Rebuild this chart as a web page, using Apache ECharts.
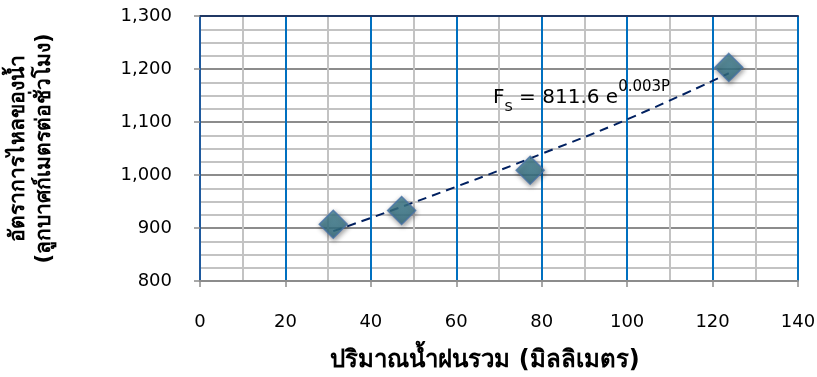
<!DOCTYPE html>
<html>
<head>
<meta charset="utf-8">
<script src="https://cdn.jsdelivr.net/npm/echarts@6/dist/echarts.min.js"></script>
<style>
  html, body { margin: 0; padding: 0; background: #fff; }
  #chart { width: 817px; height: 377px; }
</style>
</head>
<body>
<div id="chart"></div>
<script>
// ปริมาณน้ำฝนรวม (มม.) กับ อัตราการไหล (ลบ.ม./ชม.)
const rainfall = [31.2, 47.2, 77.3, 123.8];
const flowRate = [907, 933, 1009, 1203];

// เส้นแนวโน้ม (อ่านจากภาพ)
const trendX = [31.2, 40, 60, 80, 100, 123.8];
const trendY = [894, 919, 978, 1040, 1105, 1192];

const xTicks = [0, 20, 40, 60, 80, 100, 120, 140];
const yTicks = [800, 900, 1000, 1100, 1200, 1300];

const font = '"DejaVu Sans", "Noto Sans", sans-serif';
const chart = echarts.init(document.getElementById('chart'));

const option = {
  backgroundColor: '#fff',
  animation: false,
  grid: { left: 200, top: 16, right: 19, bottom: 96, outerBoundsMode: 'none', containLabel: false },
  xAxis: [{
    type: 'value',
    min: xTicks[0],
    max: xTicks[xTicks.length - 1],
    interval: 20,
    name: 'ปริมาณน้ำฝนรวม (มิลลิเมตร)',
    nameLocation: 'middle',
    nameGap: 68,
    nameTextStyle: { fontSize: 24, fontWeight: 'bold', color: '#000', fontFamily: font, padding: [0, 28, 0, 0] },
    axisLine: { show: true, lineStyle: { color: '#8c8c8c', width: 2 } },
    axisTick: { show: true, length: 6, lineStyle: { color: '#8c8c8c', width: 1.5 } },
    axisLabel: { fontSize: 18, color: '#000', margin: 32, fontFamily: font },
    splitLine: { show: true, lineStyle: { color: '#0070c0', width: 2 } },
    minorTick: { show: false, splitNumber: 2 },
    minorSplitLine: { show: true, lineStyle: { color: '#c3c3c3', width: 2 } }
  }, {
    type: 'value',
    position: 'top',
    min: 0, max: 140,
    axisLine: { show: true, lineStyle: { color: '#203864', width: 2 } },
    axisTick: { show: false },
    axisLabel: { show: false },
    splitLine: { show: false }
  }],
  yAxis: [{
    type: 'value',
    min: yTicks[0],
    max: yTicks[yTicks.length - 1],
    interval: 100,
    name: 'อัตราการไหลของน้ำ\n(ลูกบาศก์เมตรต่อชั่วโมง)',
    nameLocation: 'middle',
    nameGap: 142,
    nameRotate: 90,
    nameTextStyle: { fontSize: 21, fontWeight: 'bold', color: '#000', fontFamily: font, lineHeight: 26 },
    axisLine: { show: true, lineStyle: { color: '#8c8c8c', width: 2 } },
    axisTick: { show: true, length: 6, lineStyle: { color: '#8c8c8c', width: 1.5 } },
    axisLabel: {
      fontSize: 18, color: '#000', margin: 28, fontFamily: font,
      formatter: v => v.toLocaleString('en-US')
    },
    splitLine: { show: true, lineStyle: { color: '#8c8c8c', width: 2 } },
    minorTick: { show: false, splitNumber: 4 },
    minorSplitLine: { show: true, lineStyle: { color: '#c3c3c3', width: 2 } }
  }, {
    type: 'value',
    position: 'right',
    min: 800, max: 1300,
    axisLine: { show: true, lineStyle: { color: '#1f5a9e', width: 2 } },
    axisTick: { show: false },
    axisLabel: { show: false },
    splitLine: { show: false }
  }],
  series: [{
    type: 'line',
    data: trendX.map((x, i) => [x, trendY[i]]),
    smooth: true,
    symbol: 'none',
    lineStyle: { color: '#002060', width: 2, type: [9, 6] },
    z: 3
  }, {
    type: 'scatter',
    data: rainfall.map((x, i) => [x, flowRate[i]]),
    symbol: 'diamond',
    symbolSize: [28, 28],
    itemStyle: {
      color: {
        type: 'linear', x: 0, y: 0, x2: 0, y2: 1,
        colorStops: [{ offset: 0, color: '#47899a' }, { offset: 1, color: '#2f6a7e' }]
      },
      borderColor: '#4672a6',
      borderWidth: 1.5,
      shadowColor: 'rgba(0,0,0,0.45)',
      shadowBlur: 5,
      shadowOffsetX: 1,
      shadowOffsetY: 2
    },
    z: 4
  }],
  graphic: [{
    type: 'text',
    left: 493,
    top: 80,
    z: 10,
    style: {
      text: '{m|F}{sub|S}{m| = 811.6 e}{sup|0.003P}',
      rich: {
        m: { fontSize: 20, fontFamily: font, fill: '#000', verticalAlign: 'bottom', lineHeight: 26 },
        sub: { fontSize: 13, fontFamily: font, fill: '#000', padding: [0, 0, -6, 0], verticalAlign: 'bottom', lineHeight: 15 },
        sup: { fontSize: 15, fontFamily: font, fill: '#000', padding: [0, 0, 13, 0], verticalAlign: 'bottom', lineHeight: 17 }
      }
    }
  }]
};

chart.setOption(option);
</script>
</body>
</html>
